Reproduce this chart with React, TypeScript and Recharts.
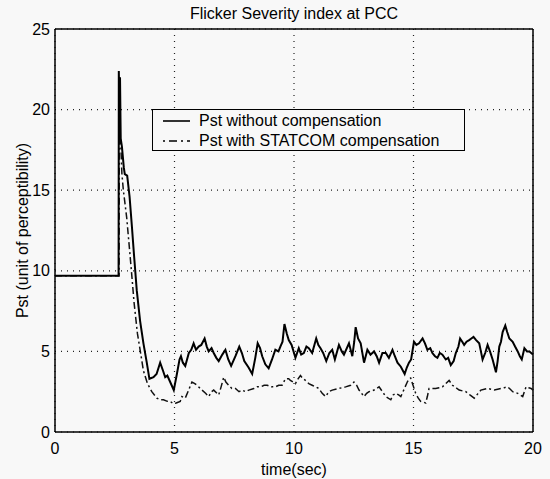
import React from 'react';
import { LineChart, Line, XAxis, YAxis, CartesianGrid, ReferenceLine } from 'recharts';

// time (sec) and Pst for the uncompensated case
const timeNoComp = [
  0, 2.66, 2.67, 2.7, 2.72, 2.75, 2.8, 2.88, 2.92, 3.02, 3.12, 3.22, 3.31, 3.42, 3.56, 3.7, 3.84, 3.95,
  4.12, 4.25, 4.4, 4.52, 4.61, 4.7, 4.82, 4.97, 5.1, 5.21, 5.27, 5.35, 5.45, 5.6, 5.7, 5.8, 5.9, 6.01,
  6.12, 6.26, 6.35, 6.43, 6.55, 6.64, 6.75, 6.85, 7.0, 7.13, 7.25, 7.37, 7.55, 7.71, 7.82, 7.92, 8.1,
  8.25, 8.38, 8.48, 8.58, 8.67, 8.8, 8.94, 9.08, 9.22, 9.35, 9.43, 9.52, 9.6, 9.7, 9.78, 9.9, 10.06,
  10.2, 10.3, 10.41, 10.52, 10.62, 10.76, 10.93, 11.02, 11.11, 11.22, 11.35, 11.48, 11.6, 11.71, 11.88,
  12.0, 12.09, 12.3, 12.44, 12.52, 12.58, 12.68, 12.79, 12.93, 13.07, 13.2, 13.35, 13.46, 13.56, 13.7,
  13.84, 13.97, 14.12, 14.22, 14.33, 14.47, 14.63, 14.72, 14.81, 14.9, 15.02, 15.12, 15.23, 15.38,
  15.48, 15.58, 15.7, 15.79, 15.9, 16.0, 16.1, 16.21, 16.35, 16.45, 16.56, 16.68, 16.77, 16.88, 16.95,
  17.04, 17.12, 17.22, 17.33, 17.42, 17.51, 17.62, 17.75, 17.82, 17.89, 18.0, 18.1, 18.2, 18.31, 18.45,
  18.52, 18.59, 18.66, 18.73, 18.84, 18.92, 19.01, 19.15, 19.25, 19.36, 19.45, 19.53, 19.64, 19.75,
  19.85, 20.0,
];
const pstNoComp = [
  9.7, 9.7, 22.4, 19.5, 22.0, 18.2, 17.7, 16.4, 16.0, 15.9, 14.6, 12.7, 10.9, 8.8, 6.9, 5.5, 4.3, 3.3,
  3.4, 3.6, 4.3, 3.8, 3.4, 3.5, 3.1, 2.6, 3.6, 4.5, 4.7, 4.3, 4.1, 4.9, 5.1, 5.5, 5.1, 5.3,
  5.4, 5.8, 5.3, 5.0, 5.2, 4.9, 4.6, 4.4, 4.8, 5.1, 4.5, 4.1, 4.7, 5.3, 4.9, 4.4, 4.0,
  3.6, 4.6, 5.5, 5.2, 4.7, 4.2, 3.95, 4.5, 5.1, 5.0, 5.3, 5.6, 6.7, 6.1, 5.7, 5.4, 4.6,
  5.2, 4.8, 4.9, 5.3, 5.2, 4.9, 5.8, 5.4, 5.2, 4.9, 4.4, 4.9, 5.1, 4.5, 5.4,
  5.0, 4.8, 5.5, 4.7, 5.6, 6.5, 5.8, 5.5, 4.3, 5.1, 4.8, 5.0, 4.7, 4.3, 4.9,
  4.9, 4.6, 5.1, 4.7, 4.3, 4.05, 3.6, 4.0, 4.3, 4.5, 5.6, 5.4, 5.5, 5.8,
  5.5, 5.1, 5.2, 4.9, 4.7, 4.6, 4.9, 4.8, 4.5, 4.6, 4.15, 4.4, 4.9, 5.3, 5.8,
  5.6, 5.4, 5.6, 5.7, 5.8, 5.9, 5.7, 5.5, 5.0, 4.5, 4.9, 5.4, 5.0, 4.5, 3.7,
  4.4, 5.3, 5.6, 6.2, 6.6, 6.2, 5.8, 5.6, 5.3, 5.0, 4.7, 4.5, 5.2, 5.0,
  5.0, 4.8,
];

// time (sec) and Pst with STATCOM compensation
const timeStatcom = [
  0, 2.68, 2.69, 2.72, 2.76, 2.8, 2.86, 3.0, 3.12, 3.22, 3.31, 3.45, 3.56, 3.7, 3.87, 4.05, 4.26, 4.4,
  4.54, 4.7, 4.82, 4.95, 5.07, 5.24, 5.31, 5.45, 5.59, 5.73, 5.85, 5.94, 6.15, 6.3, 6.43, 6.55, 6.64,
  6.85, 6.95, 7.06, 7.15, 7.27, 7.4, 7.55, 7.7, 7.83, 7.97, 8.11, 8.32, 8.45, 8.6, 8.75, 8.88, 9.05,
  9.22, 9.36, 9.5, 9.64, 9.78, 9.85, 10.06, 10.17, 10.27, 10.38, 10.48, 10.62, 10.76, 10.9, 11.04,
  11.18, 11.32, 11.46, 11.6, 11.74, 11.88, 12.02, 12.16, 12.37, 12.51, 12.62, 12.72, 12.83, 12.93,
  13.04, 13.14, 13.35, 13.56, 13.7, 13.84, 14.05, 14.15, 14.26, 14.38, 14.47, 14.56, 14.65, 14.74,
  14.81, 14.88, 14.98, 15.09, 15.2, 15.3, 15.42, 15.51, 15.58, 15.65, 15.79, 15.93, 16.07, 16.21,
  16.35, 16.49, 16.63, 16.77, 16.91, 17.05, 17.19, 17.36, 17.54, 17.68, 17.82, 17.96, 18.1, 18.24,
  18.38, 18.52, 18.66, 18.8, 18.94, 19.05, 19.15, 19.26, 19.36, 19.47, 19.57, 19.64, 19.71, 19.82,
  19.92, 20.0,
];
const pstStatcom = [
  9.7, 9.7, 21.3, 18.5, 17.5, 16.0, 15.0, 13.3, 11.3, 9.6, 8.0, 6.1, 5.1, 3.8, 3.0, 2.5, 2.1, 2.0,
  2.0, 1.9, 1.9, 1.75, 1.8, 1.9, 2.2, 2.1, 2.6, 3.1, 3.0, 2.9, 2.6, 2.4, 2.2, 2.5, 2.6,
  2.3, 2.8, 3.4, 3.1, 2.9, 2.7, 2.7, 2.5, 2.6, 2.5, 2.6, 2.7, 2.8, 2.8, 2.9, 2.9, 2.8,
  2.8, 2.9, 2.9, 3.3, 3.3, 3.2, 3.0, 3.3, 3.5, 3.3, 3.2, 3.0, 2.9, 2.8, 2.7,
  2.4, 2.2, 2.5, 2.6, 2.65, 2.7, 2.75, 2.8, 2.9, 3.1, 2.9, 2.6, 2.4, 2.2,
  2.4, 2.5, 2.6, 2.8, 2.5, 2.2, 2.0, 2.3, 2.4, 2.3, 2.2, 2.5, 2.8, 3.1,
  3.3, 3.35, 2.9, 2.4, 2.1, 1.9, 1.85, 1.8, 2.2, 2.7, 2.7, 2.7, 2.75, 2.8,
  3.0, 3.2, 2.9, 2.75, 2.6, 2.55, 2.5, 2.3, 2.1, 2.35, 2.6, 2.65, 2.7, 2.65,
  2.6, 2.65, 2.7, 2.75, 2.8, 2.65, 2.5, 2.45, 2.4, 2.3, 2.2, 2.5, 2.8, 2.75,
  2.7, 2.6,
];

const xTicks = [0, 5, 10, 15, 20];
const yTicks = [0, 5, 10, 15, 20, 25];

const noCompData = timeNoComp.map((t, i) => ({ t, pst: pstNoComp[i] }));
const statcomData = timeStatcom.map((t, i) => ({ t, pst: pstStatcom[i] }));

const FONT = '"Liberation Sans", Arial, Helvetica, sans-serif';
const BG = '#f8f8f8';

const LegendBox = () => (
  <div
    style={{
      position: 'absolute',
      left: 152,
      top: 109,
      width: 311,
      height: 40,
      border: '1.5px solid #000',
      background: BG,
      fontFamily: FONT,
      fontSize: 16,
      color: '#000',
      boxSizing: 'content-box',
    }}
  >
    <div style={{ display: 'flex', alignItems: 'center', height: 20, marginTop: 1 }}>
      <svg width={46} height={20}>
        <line x1={10} y1={10} x2={37} y2={10} stroke="#000" strokeWidth={1.6} />
      </svg>
      <span>Pst without compensation</span>
    </div>
    <div style={{ display: 'flex', alignItems: 'center', height: 20 }}>
      <svg width={46} height={20}>
        <line x1={10} y1={10} x2={37} y2={10} stroke="#000" strokeWidth={1.4} strokeDasharray="2 4 8 4" />
      </svg>
      <span>Pst with STATCOM compensation</span>
    </div>
  </div>
);

export default function App() {
  return (
    <div style={{ position: 'absolute', left: 0, top: 0, width: 550, height: 479, background: BG }}>
      <div
        style={{
          position: 'absolute',
          left: 55,
          top: 5,
          width: 478,
          textAlign: 'center',
          fontFamily: FONT,
          fontSize: 16,
          lineHeight: '18px',
          color: '#000',
        }}
      >
        Flicker Severity index at PCC
      </div>
      <LineChart width={550} height={479} margin={{ top: 29, right: 17, bottom: 0, left: 0 }}>
        <CartesianGrid stroke="#222" strokeDasharray="1 5" strokeWidth={1.2} />
        <XAxis
          dataKey="t"
          type="number"
          domain={[0, 20]}
          ticks={xTicks}
          allowDataOverflow
          height={47}
          tickLine={false}
          tickSize={6}
          tickMargin={5}
          axisLine={{ stroke: '#000', strokeWidth: 1.5 }}
          tick={{ fill: '#000', fontSize: 16, fontFamily: FONT }}
          label={{ value: 'time(sec)', position: 'insideBottom', offset: 4, fill: '#000', fontSize: 16, fontFamily: FONT }}
        />
        <YAxis
          type="number"
          domain={[0, 25]}
          ticks={yTicks}
          allowDataOverflow
          width={55}
          tickLine={false}
          tickSize={3}
          tickMargin={2}
          axisLine={{ stroke: '#000', strokeWidth: 1.5 }}
          tick={{ fill: '#000', fontSize: 16, fontFamily: FONT }}
          label={{
            value: 'Pst (unit of perceptibility)',
            angle: -90,
            position: 'insideLeft',
            offset: 22,
            fill: '#000',
            fontSize: 16,
            fontFamily: FONT,
            style: { textAnchor: 'middle' },
          }}
        />
        <ReferenceLine y={25} stroke="#000" strokeWidth={1.5} />
        <ReferenceLine x={20} stroke="#000" strokeWidth={1.5} />
        <Line
          data={statcomData}
          dataKey="pst"
          type="linear"
          stroke="#111"
          strokeWidth={1.5}
          strokeDasharray="7 3 2 3"
          dot={false}
          isAnimationActive={false}
        />
        <Line
          data={noCompData}
          dataKey="pst"
          type="linear"
          stroke="#000"
          strokeWidth={2}
          dot={false}
          isAnimationActive={false}
        />
      </LineChart>
      <LegendBox />
    </div>
  );
}
